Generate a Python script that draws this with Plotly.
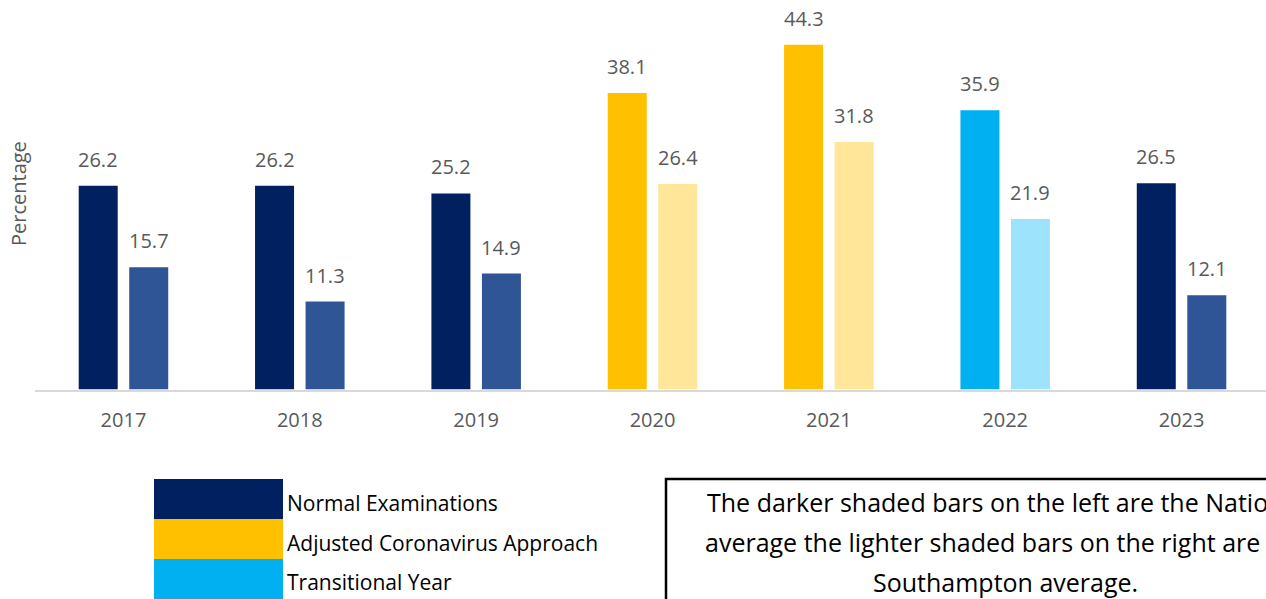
import plotly.graph_objects as go

# ---------------- data ----------------
years = ["2017", "2018", "2019", "2020", "2021", "2022", "2023"]
national = [26.2, 26.2, 25.2, 38.1, 44.3, 35.9, 26.5]
southampton = [15.7, 11.3, 14.9, 26.4, 31.8, 21.9, 12.1]
approach = ["Normal Examinations", "Normal Examinations", "Normal Examinations",
            "Adjusted Coronavirus Approach", "Adjusted Coronavirus Approach",
            "Transitional Year", "Normal Examinations"]
legend_items = ["Normal Examinations", "Adjusted Coronavirus Approach", "Transitional Year"]
note_lines = ["The darker shaded bars on the left are the National",
              "average the lighter shaded bars on the right are the",
              "Southampton average."]
y_title = "Percentage"

dark_colors = {"Normal Examinations": "#002060",
               "Adjusted Coronavirus Approach": "#FFC000",
               "Transitional Year": "#00B0F0"}
light_colors = {"Normal Examinations": "#2F5597",
                "Adjusted Coronavirus Approach": "#FFE699",
                "Transitional Year": "#9DE3FB"}

# ---------------- geometry helpers ----------------
W, H = 1266, 599
def px(x):
    return x / W
def py(y):
    return 1 - y / H

FONT = "Open Sans"
GREY = "#595959"

fig = go.Figure()
fig.add_trace(go.Bar(x=years, y=national, name="National",
                     marker=dict(color=[dark_colors[a] for a in approach], line=dict(width=0)),
                     showlegend=False, hoverinfo="x+y"))
fig.add_trace(go.Bar(x=years, y=southampton, name="Southampton",
                     marker=dict(color=[light_colors[a] for a in approach], line=dict(width=0)),
                     showlegend=False, hoverinfo="x+y"))

annotations = []
offset = 25.25
for i, v in enumerate(national):
    annotations.append(dict(x=i, y=v, xref="x", yref="y", text=f"{v:.1f}", showarrow=False,
                            xshift=-offset, yanchor="bottom", yshift=11,
                            font=dict(family=FONT, size=20, color=GREY)))
for i, v in enumerate(southampton):
    annotations.append(dict(x=i, y=v, xref="x", yref="y", text=f"{v:.1f}", showarrow=False,
                            xshift=offset, yanchor="bottom", yshift=11,
                            font=dict(family=FONT, size=20, color=GREY)))

# y-axis title
annotations.append(dict(x=px(18), y=py(194), xref="paper", yref="paper", text=y_title,
                        showarrow=False, textangle=-90, xanchor="center", yanchor="middle",
                        font=dict(family=FONT, size=20, color=GREY)))

shapes = []
# custom legend
leg_tops = [479, 519, 559]
leg_text_y = [503, 543, 582]
for item, top, ty in zip(legend_items, leg_tops, leg_text_y):
    shapes.append(dict(type="rect", xref="paper", yref="paper",
                       x0=px(154), x1=px(283), y0=py(top), y1=py(top + 40),
                       fillcolor=dark_colors[item], line=dict(width=0), layer="above"))
    annotations.append(dict(x=px(285), y=py(ty), xref="paper", yref="paper", text=item,
                            showarrow=False, xanchor="left", yanchor="middle",
                            font=dict(family=FONT, size=21, color="#000000")))

# note box (extends beyond the right edge, as in the reference)
shapes.append(dict(type="rect", xref="paper", yref="paper",
                   x0=px(666), x1=px(1344), y0=py(479), y1=py(640),
                   fillcolor="rgba(0,0,0,0)", line=dict(color="#000000", width=2.5)))
for line, ty in zip(note_lines, [502, 542, 582]):
    annotations.append(dict(x=px(1005), y=py(ty), xref="paper", yref="paper", text=line,
                            showarrow=False, xanchor="center", yanchor="middle",
                            font=dict(family=FONT, size=25, color="#000000")))

fig.update_layout(
    width=W, height=H,
    margin=dict(l=0, r=0, t=0, b=0, autoexpand=False),
    paper_bgcolor="white", plot_bgcolor="white",
    barmode="group", bargap=0.427, bargroupgap=0.228,
    xaxis=dict(domain=[px(35.3), 1], range=[-0.5, 6.479], type="category",
               showgrid=False, zeroline=False, showline=True, linecolor="#D9D9D9", linewidth=1.5,
               ticks="", ticklabelstandoff=12,
               tickfont=dict(family=FONT, size=20, color=GREY)),
    yaxis=dict(domain=[py(389.5), 1], range=[0, 50.06], showgrid=False, zeroline=False,
               showline=False, showticklabels=False, ticks=""),
    annotations=annotations, shapes=shapes,
    showlegend=False,
)

fig.write_html("out.html", config={"displayModeBar": False},
               post_script="document.body.style.margin='0';")
